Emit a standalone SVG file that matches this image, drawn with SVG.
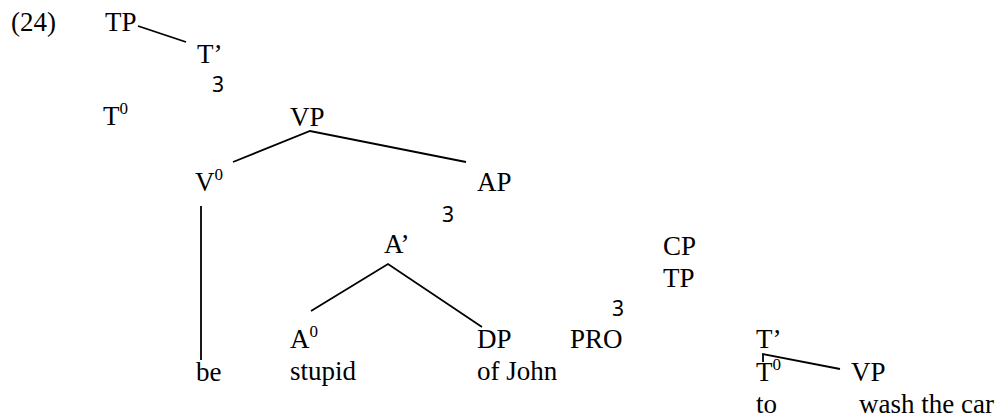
<svg xmlns="http://www.w3.org/2000/svg" width="1001" height="419" viewBox="0 0 1001 419">
<style>
.t{font-family:"Liberation Serif","Times New Roman",serif;font-size:27px;fill:#000}
.s{font-size:17px}
.n{font-family:"Noto Sans","DejaVu Sans",sans-serif;font-size:21px;fill:#000}
.l{stroke:#000;stroke-width:1.8;fill:none}
</style>
<rect width="1001" height="419" fill="#fff"/>
<text class="t" x="11" y="31">(24)</text>
<g id="n-tp"><text class="t" x="105" y="31">TP</text></g>
<g id="n-tbar"><text class="t" x="197" y="63">T’</text></g>
<g id="n-3a"><text class="n" x="212" y="92">3</text></g>
<g id="n-t0"><text class="t" x="103" y="125">T<tspan class="s" dy="-11">0</tspan></text></g>
<g id="n-vp"><text class="t" x="290" y="126">VP</text></g>
<g id="n-v0"><text class="t" x="195" y="191">V<tspan class="s" dy="-11">0</tspan></text></g>
<g id="n-ap"><text class="t" x="477" y="191">AP</text></g>
<g id="n-3b"><text class="n" x="442" y="222">3</text></g>
<g id="n-abar"><text class="t" x="384" y="253">A’</text></g>
<g id="n-cp"><text class="t" x="663" y="255">CP</text></g>
<g id="n-tp2"><text class="t" x="663" y="287">TP</text></g>
<g id="n-3c"><text class="n" x="612" y="316">3</text></g>
<g id="n-a0"><text class="t" x="290" y="348">A<tspan class="s" dy="-11">0</tspan></text></g>
<g id="n-dp"><text class="t" x="477" y="348">DP</text></g>
<g id="n-pro"><text class="t" x="570" y="348">PRO</text></g>
<g id="n-tbar2"><text class="t" x="756" y="348">T’</text></g>
<g id="n-be"><text class="t" x="196" y="381">be</text></g>
<g id="n-stupid"><text class="t" x="290" y="380">stupid</text></g>
<g id="n-ofjohn"><text class="t" x="477" y="380">of John</text></g>
<g id="n-t02"><text class="t" x="756" y="381">T<tspan class="s" dy="-11">0</tspan></text></g>
<g id="n-vp2"><text class="t" x="851" y="381">VP</text></g>
<g id="n-to"><text class="t" x="756" y="413">to</text></g>
<g id="n-wash"><text class="t" x="859" y="413">wash the car</text></g>
<g id="connectors">
<line class="l" x1="138" y1="26" x2="186" y2="42"/>
<polyline class="l" points="233,162 310,131 466,162"/>
<line class="l" x1="201" y1="206" x2="201" y2="360"/>
<polyline class="l" points="311,311 388,264 482,327"/>
<polyline class="l" points="763,362 763,354 840,369"/>
</g>
</svg>
